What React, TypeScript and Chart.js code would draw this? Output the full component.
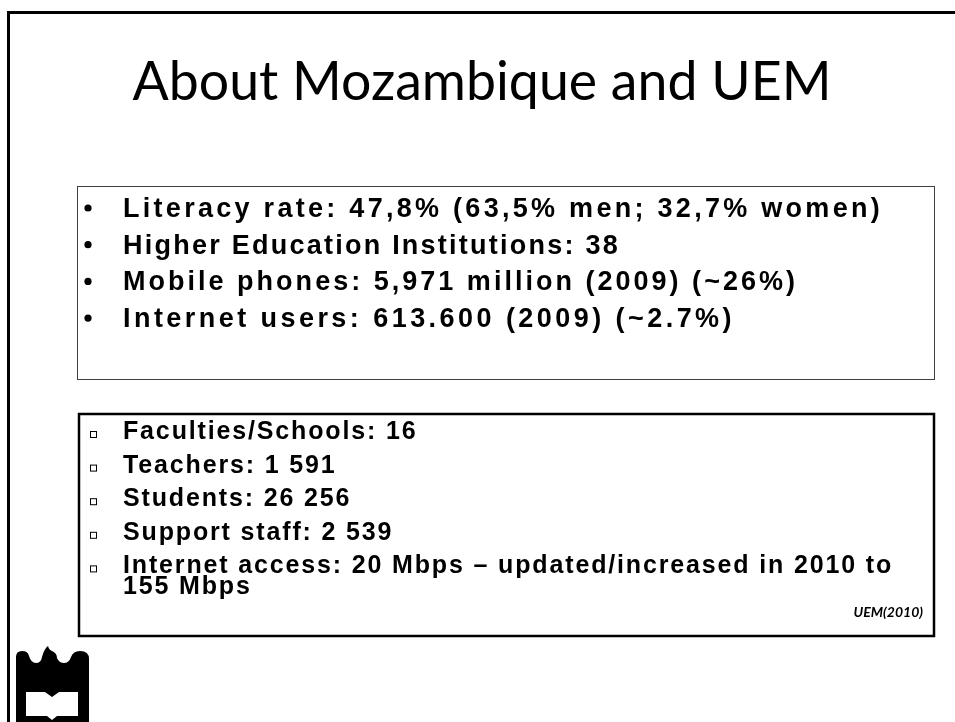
import React, { useEffect, useRef } from "react";
import { Chart, registerables } from "chart.js";

Chart.register(...registerables);

const titleText = "About Mozambique and UEM";
const countryFacts = [
  "Literacy rate: 47,8% (63,5% men; 32,7% women)",
  "Higher Education Institutions: 38",
  "Mobile phones: 5,971 million (2009) (~26%)",
  "Internet users: 613.600 (2009) (~2.7%)",
];
const uemFacts = [
  ["Faculties/Schools: 16"],
  ["Teachers: 1 591"],
  ["Students: 26 256"],
  ["Support staff: 2 539"],
  ["Internet access: 20 Mbps \u2013 updated/increased in 2010 to", "155 Mbps"],
];
const sourceNote = "UEM(2010)";

// layout (pixels)
const W = 955;
const H = 722;
const countryLineEnds = [883, 620, 798, 735];

function setSpacing(ctx: any, px: number) {
  if ("letterSpacing" in ctx) ctx.letterSpacing = px + "px";
}

function fitText(ctx: CanvasRenderingContext2D, text: string, x: number, y: number, right: number) {
  setSpacing(ctx, 0);
  const w = ctx.measureText(text).width;
  setSpacing(ctx, Math.max(0, (right - x - w) / text.length));
  ctx.fillText(text, x, y);
  setSpacing(ctx, 0);
}

function drawLogo(ctx: CanvasRenderingContext2D) {
  ctx.save();
  ctx.fillStyle = "#000";
  ctx.beginPath();
  ctx.moveTo(16, 722);
  ctx.lineTo(16, 657);
  ctx.quadraticCurveTo(16, 651, 22, 651);
  ctx.quadraticCurveTo(28, 651, 29, 656);
  ctx.quadraticCurveTo(31, 663, 36, 663);
  ctx.quadraticCurveTo(41, 663, 42, 657);
  ctx.quadraticCurveTo(44, 649, 48, 646);
  ctx.quadraticCurveTo(49, 650, 52, 651);
  ctx.quadraticCurveTo(57, 653, 57, 658);
  ctx.quadraticCurveTo(59, 663, 64, 663);
  ctx.quadraticCurveTo(69, 663, 71, 657);
  ctx.quadraticCurveTo(73, 651, 80, 651);
  ctx.quadraticCurveTo(89, 651, 89, 659);
  ctx.lineTo(89, 722);
  ctx.closePath();
  ctx.fill();
  ctx.fillStyle = "#fff";
  ctx.beginPath();
  ctx.moveTo(26, 692);
  ctx.lineTo(45, 692);
  ctx.lineTo(52, 697);
  ctx.lineTo(59, 692);
  ctx.lineTo(78, 692);
  ctx.lineTo(78, 716);
  ctx.lineTo(57, 716);
  ctx.lineTo(52, 720);
  ctx.lineTo(47, 716);
  ctx.lineTo(26, 716);
  ctx.closePath();
  ctx.fill();
  ctx.restore();
}

const slidePlugin = {
  id: "slide",
  afterDraw(chart: any) {
    const ctx: CanvasRenderingContext2D = chart.ctx;
    ctx.save();
    ctx.fillStyle = "#fff";
    ctx.fillRect(0, 0, W, H);

    // outer frame
    ctx.fillStyle = "#000";
    ctx.fillRect(7, 11, W - 7, 3);
    ctx.fillRect(7, 11, 3, H - 11);

    // title
    ctx.textBaseline = "alphabetic";
    ctx.font = '54px Lato, "Open Sans", sans-serif';
    setSpacing(ctx, 0);
    const tw = ctx.measureText(titleText).width;
    ctx.save();
    ctx.translate(482, 100);
    ctx.scale(699 / tw, 1);
    ctx.textAlign = "center";
    ctx.fillText(titleText, 0, 0);
    ctx.restore();

    // box 1
    ctx.strokeStyle = "#404040";
    ctx.lineWidth = 1;
    ctx.strokeRect(77.5, 186.5, 857, 193);
    ctx.textAlign = "left";
    ctx.font = 'bold 27px "Liberation Sans", Arial, sans-serif';
    countryFacts.forEach((t, i) => {
      const y = 217 + i * 36.7;
      ctx.beginPath();
      ctx.arc(88, y - 9, 3.6, 0, Math.PI * 2);
      ctx.fill();
      fitText(ctx, t, 123, y, countryLineEnds[i]);
    });

    // box 2
    ctx.strokeStyle = "#000";
    ctx.lineWidth = 2.5;
    ctx.strokeRect(79, 414, 855, 222);
    ctx.font = 'bold 25px "Liberation Sans", Arial, sans-serif';
    uemFacts.forEach((lines, i) => {
      const y = 439 + i * 33.6;
      ctx.lineWidth = 1;
      ctx.strokeRect(90.5, y - 7.5, 6, 6);
      setSpacing(ctx, 1.85);
      lines.forEach((l, j) => ctx.fillText(l, 123, y + j * 20.5));
      setSpacing(ctx, 0);
    });

    ctx.font = 'italic bold 14px Lato, "Open Sans", sans-serif';
    ctx.textAlign = "right";
    ctx.fillText(sourceNote, 923, 617);

    drawLogo(ctx);
    ctx.restore();
  },
};

export default function App() {
  const ref = useRef<HTMLCanvasElement>(null);
  useEffect(() => {
    if (!ref.current) return;
    const chart = new Chart(ref.current, {
      type: "scatter",
      data: { datasets: [] },
      options: {
        animation: false,
        responsive: false,
        devicePixelRatio: 1,
        layout: { padding: 0 },
        plugins: { legend: { display: false }, tooltip: { enabled: false }, title: { display: false } },
        scales: { x: { display: false }, y: { display: false } },
      },
      plugins: [slidePlugin],
    });
    return () => chart.destroy();
  }, []);
  return (
    <div style={{ position: "fixed", left: 0, top: 0, width: W, height: H, background: "#fff" }}>
      <canvas ref={ref} width={W} height={H} style={{ width: W, height: H, display: "block" }} />
    </div>
  );
}
